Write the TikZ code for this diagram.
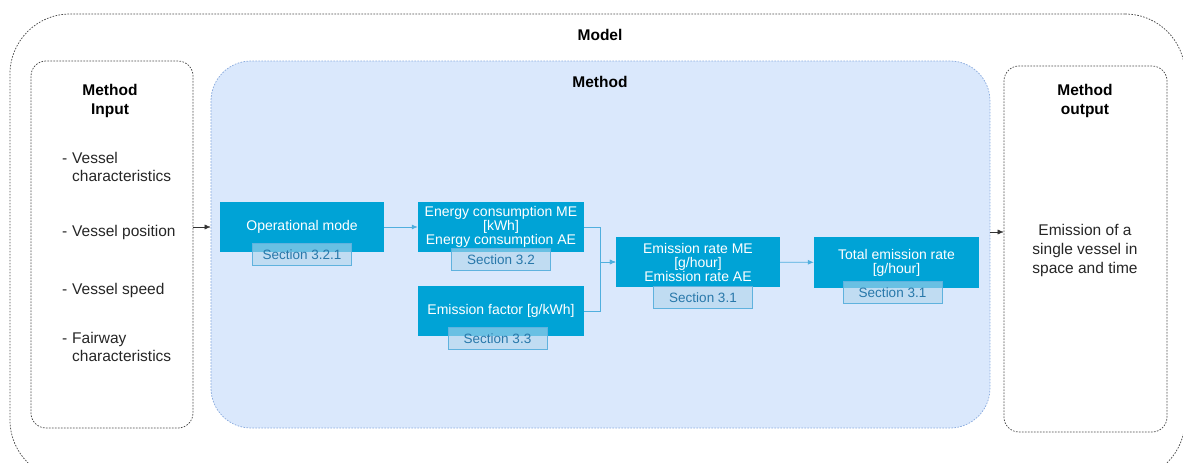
\documentclass[tikz,border=0pt]{standalone}
\usepackage{fontspec}
\setmainfont{Liberation Sans}
\usetikzlibrary{positioning,arrows.meta}
\definecolor{procblue}{RGB}{0,163,214}
\definecolor{methodfill}{RGB}{218,232,252}
\definecolor{methodline}{RGB}{140,172,222}
\definecolor{tagfill}{RGB}{175,212,236}
\definecolor{tagline}{RGB}{95,178,222}
\definecolor{tagtext}{RGB}{40,120,170}
\definecolor{flowblue}{RGB}{80,175,222}
\begin{document}
\begin{tikzpicture}[x=1pt, y=-1pt,
    frame/.style={rectangle, draw=black!70, line width=0.75pt, dash pattern=on 1.6pt off 1.4pt, rounded corners=#1, inner sep=0pt},
    proc/.style={rectangle, fill=procblue, text=white, minimum width=165pt, minimum height=50pt, align=center, inner sep=0pt, font=\fontsize{14}{14}\selectfont},
    tag/.style={rectangle, draw=tagline, fill=tagfill, fill opacity=0.6, text opacity=1, text=tagtext, minimum width=99pt, minimum height=22pt, inner sep=0pt, font=\fontsize{13.5}{13.5}\selectfont},
    title/.style={font=\bfseries\fontsize{15.5}{19}\selectfont, align=center, text=black},
    item/.style={anchor=west, align=left, inner sep=0pt, text=black!85, font=\fontsize{15.5}{18}\selectfont},
    flow/.style={-{Latex[length=6pt,width=5pt]}, draw=flowblue, thick},
    feed/.style={-{Latex[length=6pt,width=5pt]}, draw=black!80}
]
    \useasboundingbox (0,0) rectangle (1183,463);
    \clip (0,0) rectangle (1183,463);

    \node[frame=60pt, minimum width=1175pt, minimum height=466pt] (model) at (597.5,247) {};
    \node[title] (modeltitle) at (600,35) {Model};

    \node[frame=15pt, minimum width=162pt, minimum height=367pt] (input) at (112,244.5) {};
    \node[title] (inputtitle) at (110,101) {Method\\Input};
    \node[item] (vchar) at (72,167) {\llap{-\hspace{5pt}}Vessel\\characteristics};
    \node[item] (vpos) at (72,232) {\llap{-\hspace{5pt}}Vessel position};
    \node[item] (vspeed) at (72,290) {\llap{-\hspace{5pt}}Vessel speed};
    \node[item] (fchar) at (72,347) {\llap{-\hspace{5pt}}Fairway\\characteristics};

    \node[frame=40pt, draw=methodline, fill=methodfill, minimum width=779pt, minimum height=367pt] (method) at (600.5,244.5) {};
    \node[title] (methodtitle) at (600,82) {Method};

    \node[frame=15pt, minimum width=163pt, minimum height=366pt] (output) at (1085.5,249) {};
    \node[title] (outputtitle) at (1085,101) {Method\\output};
    \node[align=center, text=black!85, font=\fontsize{15.5}{19}\selectfont] (result) at (1085,250) {Emission of a\\single vessel in\\space and time};

    \node[proc, minimum width=164pt] (opmode) at (302,227) {Operational mode};
    \node[proc, minimum width=166pt] (energy) at (501,227) {Energy consumption ME\\{[kWh]}\\Energy consumption AE};
    \node[proc, minimum width=166pt] (factor) at (501,311) {Emission factor [g/kWh]};
    \node[proc, minimum width=164pt] (rate) at (698,262) {Emission rate ME\\{[g/hour]}\\Emission rate AE};
    \node[proc, minimum height=51pt] (total) at (896.5,262.5) {Total emission rate\\{[g/hour]}};

    \node[tag, below=-9pt of opmode] (tagop) {Section 3.2.1};
    \node[tag, below=-4pt of energy] (tagenergy) {Section 3.2};
    \node[tag, below=-9pt of factor, xshift=-3.5pt] (tagfactor) {Section 3.3};
    \node[tag, below=-1pt of rate, xshift=5pt] (tagrate) {Section 3.1};
    \node[tag, below=-7pt of total, xshift=-4pt] (tagtotal) {Section 3.1};

    \draw[feed] (input.east |- opmode) -- (method.west |- opmode);
    \draw[flow] (opmode) -- (energy);
    \draw[flow] (energy.east) -- ++(16,0) |- (rate.west);
    \draw[flow] (factor.east) -- ++(16,0) |- (rate.west);
    \draw[flow] (rate) -- (total);
    \draw[feed] ([yshift=12.5pt]method.east) -- ([yshift=12.5pt]method.east -| output.west);
\end{tikzpicture}
\end{document}
